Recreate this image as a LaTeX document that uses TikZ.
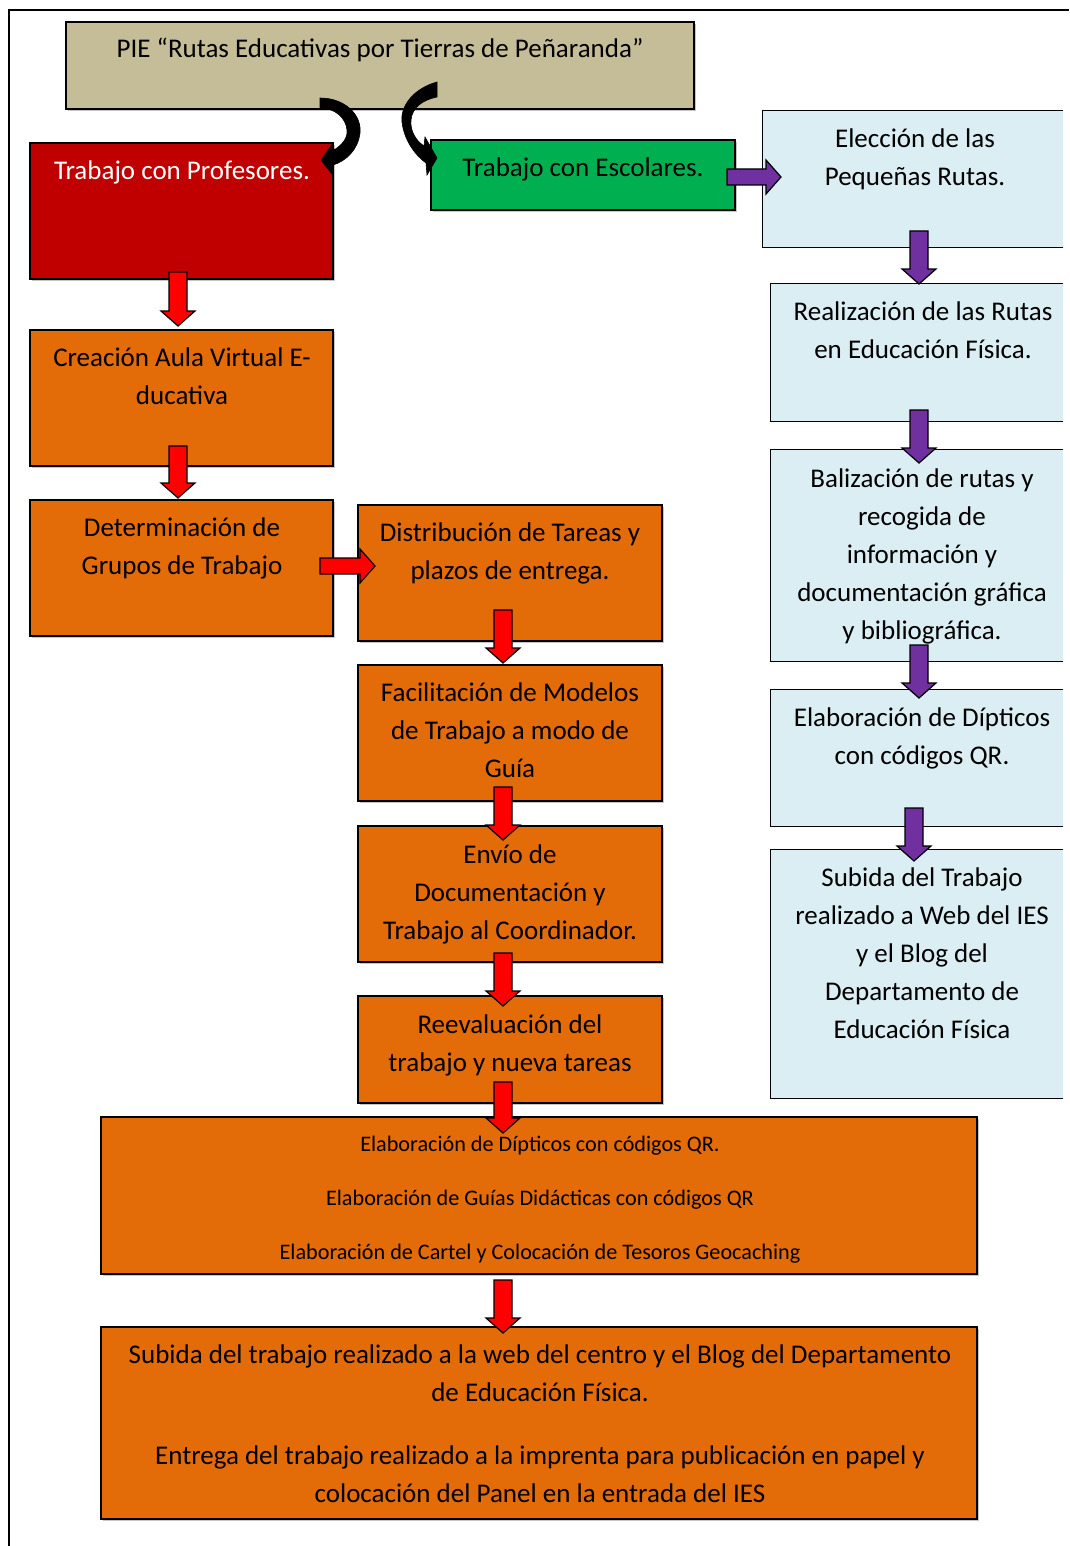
\documentclass[tikz,border=0pt]{standalone}
\usepackage{fontspec}
\setmainfont{Carlito}
\usetikzlibrary{shadows}
\definecolor{tanC}{HTML}{C4BD97}
\definecolor{redC}{HTML}{C00000}
\definecolor{greenC}{HTML}{00B050}
\definecolor{lbC}{HTML}{DBEEF3}
\definecolor{orC}{HTML}{E36C09}
\definecolor{purC}{HTML}{7030A0}
\definecolor{arrRed}{HTML}{FF0000}
\newcommand\bx[6]{\node[box,#6,minimum width={#4-#2},minimum height={#5-#3}] (#1) at ({(#2+#4)/2},{(#3+#5)/2}) {};}
\newcommand\lbx[5]{\node[lbbox,minimum width={#4-#2},minimum height={#5-#3}] (#1) at ({(#2+#4)/2},{(#3+#5)/2}) {};
  \draw[edge] (#1.north east) -- (#1.north west) -- (#1.south west) -- (#1.south east);}
% down block arrow: x, ytop, ybottom, colour
\newcommand\dar[4]{\draw[blockarr,fill=#4] (#1-9,#2) -- (#1+9,#2) -- (#1+9,#3-15) -- (#1+17,#3-15) -- (#1,#3) -- (#1-17,#3-15) -- (#1-9,#3-15) -- cycle;}
% right block arrow: y, xleft, xright, colour
\newcommand\rar[4]{\draw[blockarr,fill=#4] (#2,#1-8) -- (#3-15,#1-8) -- (#3-15,#1-17) -- (#3,#1) -- (#3-15,#1+17) -- (#3-15,#1+8) -- (#2,#1+8) -- cycle;}
\begin{document}
\begin{tikzpicture}[x=1pt,y=-1pt,
  box/.style={draw=black,line width=1.3pt,inner sep=0pt,
     drop shadow={shadow xshift=2pt,shadow yshift=-2pt,opacity=0.45,fill=gray}},
  lbbox/.style={fill=lbC,draw=none,inner sep=0pt},
  edge/.style={draw=black,line width=1.3pt},
  txt/.style={align=center,inner sep=0pt,anchor=north,font=\fontsize{27}{38}\selectfont},
  small/.style={align=center,inner sep=0pt,anchor=north,font=\fontsize{22.2}{54}\selectfont},
  blockarr/.style={draw=black,line width=1.2pt,line join=miter},
  curl/.style={fill=black,draw=black,line width=0.6pt}]
\useasboundingbox (0,0) rectangle (1069,1546);
\fill[white] (0,0) rectangle (1069,1546);
\draw[line width=1.3pt] (1069,10) -- (9,10) -- (9,1546);

% boxes
\bx{pie}{66}{22}{694}{109}{fill=tanC}
\bx{prof}{30}{143}{333}{279}{fill=redC}
\bx{esc}{431}{140}{735}{210}{fill=greenC}
\bx{cre}{30}{330}{333}{466}{fill=orC}
\bx{det}{30}{500}{333}{636}{fill=orC}
\bx{dis}{358}{505}{662}{641}{fill=orC}
\bx{fac}{358}{665}{662}{801}{fill=orC}
\bx{env}{358}{826}{662}{962}{fill=orC}
\bx{ree}{358}{996}{662}{1103}{fill=orC}
\bx{big1}{101}{1117}{977}{1274}{fill=orC}
\bx{big2}{101}{1327}{977}{1519}{fill=orC}
\lbx{lb1}{763}{111}{1063}{247}
\lbx{lb2}{771}{284}{1063}{421}
\lbx{lb3}{771}{450}{1063}{661}
\lbx{lb4}{771}{690}{1063}{826}
\lbx{lb5}{771}{850}{1063}{1098}

% texts
\node[txt] (tpie) at (380,31) {\strut PIE “Rutas Educativas por Tierras de Peñaranda”};
\node[txt,text=white] (tprof) at (182,153) {\strut Trabajo con Profesores.};
\node[txt] (tesc) at (583,150) {\strut Trabajo con Escolares.};
\node[txt] (tlb1) at (915,121) {\strut Elección de las\\Pequeñas Rutas.};
\node[txt] (tlb2) at (923,294) {\strut Realización de las Rutas\\en Educación Física.};
\node[txt] (tlb3) at (922,461) {\strut Balización de rutas y\\recogida de\\información y\\documentación gráfica\\y bibliográfica.};
\node[txt] (tlb4) at (922,700) {\strut Elaboración de Dípticos\\con códigos QR.};
\node[txt] (tlb5) at (922,860) {\strut Subida del Trabajo\\realizado a Web del IES\\y el Blog del\\Departamento de\\Educación Física};
\node[txt] (tcre) at (182,340) {\strut Creación Aula Virtual E-\\ducativa};
\node[txt] (tdet) at (182,510) {\strut Determinación de\\Grupos de Trabajo};
\node[txt] (tdis) at (510,515) {\strut Distribución de Tareas y\\plazos de entrega.};
\node[txt] (tfac) at (510,675) {\strut Facilitación de Modelos\\de Trabajo a modo de\\Guía};
\node[txt] (tenv) at (510,837) {\strut Envío de\\Documentación y\\Trabajo al Coordinador.};
\node[txt] (tree) at (510,1007) {\strut Reevaluación del\\trabajo y nueva tareas};
\node[small] (tbig1) at (540,1113.5) {\strut Elaboración de Dípticos con códigos QR.\\Elaboración de Guías Didácticas con códigos QR\\Elaboración de Cartel y Colocación de Tesoros Geocaching};
\node[txt] (tbig2) at (540,1337) {\strut Subida del trabajo realizado a la web del centro y el Blog del Departamento\\de Educación Física.\\[25pt]Entrega del trabajo realizado a la imprenta para publicación en papel y\\colocación del Panel en la entrada del IES};

% curved arrows
\path[curl] (320,98) .. controls (345,98) and (362,115) .. (360,133)
  .. controls (358,150) and (346,161) .. (333,165) -- (332,174) -- (321,160) -- (333,143)
  -- (334,150) .. controls (342,145) and (348,138) .. (347,130)
  .. controls (346,118) and (335,108) .. (320,108) -- cycle;
\path[curl] (437,82) .. controls (415,88) and (400,105) .. (402,122)
  .. controls (404,140) and (415,155) .. (426,163) -- (427,175) -- (437,158) -- (425,137)
  -- (424,146) .. controls (415,140) and (410,130) .. (411,120)
  .. controls (412,108) and (422,100) .. (437,97) -- cycle;

% block arrows
\dar{178}{272}{326}{arrRed}
\dar{178}{446}{498}{arrRed}
\rar{566}{320}{375}{arrRed}
\dar{503}{610}{663}{arrRed}
\dar{503}{787}{840}{arrRed}
\dar{503}{953}{1006}{arrRed}
\dar{503}{1082}{1133}{arrRed}
\dar{503}{1280}{1333}{arrRed}
\rar{177}{727}{781}{purC}
\dar{919}{231}{284}{purC}
\dar{919}{410}{463}{purC}
\dar{919}{645}{698}{purC}
\dar{914}{808}{861}{purC}
\end{tikzpicture}
\end{document}
